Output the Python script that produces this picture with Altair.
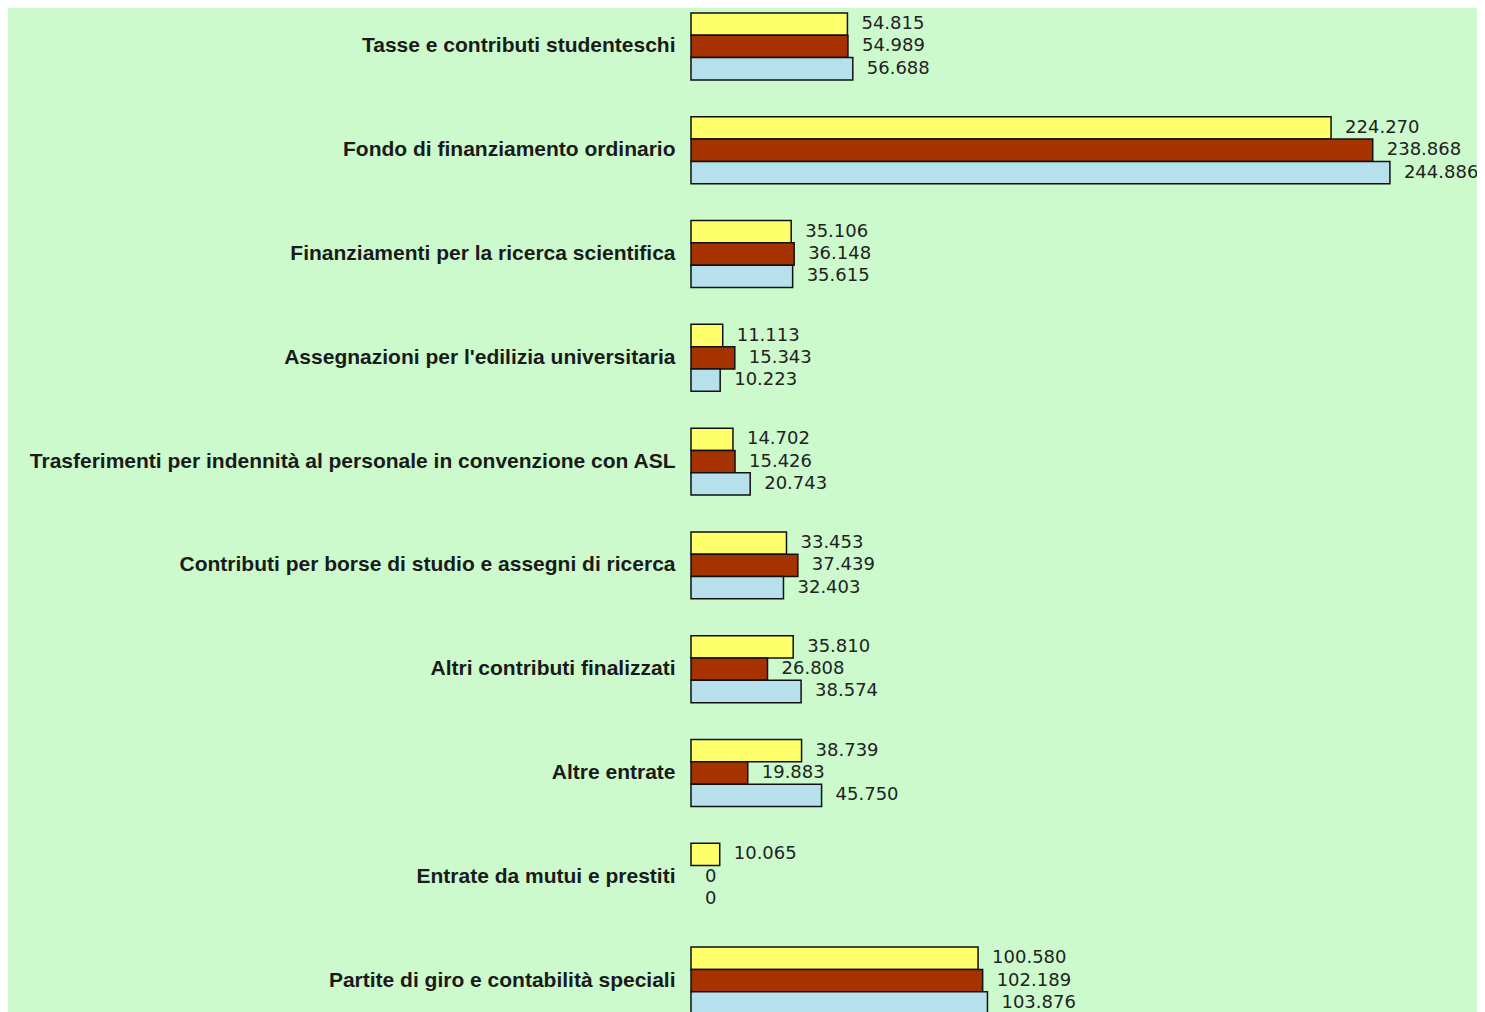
import altair as alt
import pandas as pd

categories = [
    "Tasse e contributi studenteschi",
    "Fondo di finanziamento ordinario",
    "Finanziamenti per la ricerca scientifica",
    "Assegnazioni per l'edilizia universitaria",
    "Trasferimenti per indennità al personale in convenzione con ASL",
    "Contributi per borse di studio e assegni di ricerca",
    "Altri contributi finalizzati",
    "Altre entrate",
    "Entrate da mutui e prestiti",
    "Partite di giro e contabilità speciali",
]
series_names = ["Serie 1", "Serie 2", "Serie 3"]
serie1 = [54815, 224270, 35106, 11113, 14702, 33453, 35810, 38739, 10065, 100580]
serie2 = [54989, 238868, 36148, 15343, 15426, 37439, 26808, 19883, 0, 102189]
serie3 = [56688, 244886, 35615, 10223, 20743, 32403, 38574, 45750, 0, 103876]
series_colors = ["#FFFF6A", "#A63200", "#B6E0EC"]

rows = []
for name, vals in zip(series_names, [serie1, serie2, serie3]):
    for c, v in zip(categories, vals):
        rows.append({"categoria": c, "serie": name, "valore": v})
df = pd.DataFrame(rows)

y_enc = alt.Y("categoria:N", sort=categories, title=None,
              scale=alt.Scale(range=[0, 1011], paddingInner=0.355, paddingOuter=0.048),
              axis=alt.Axis(labelFontWeight="bold", labelFontSize=21, labelColor="#1a1a1a",
                            labelFont="Liberation Sans", ticks=False, domain=False,
                            labelPadding=16, labelLimit=0, grid=False))
yoff = alt.YOffset("serie:N", sort=series_names,
                   scale=alt.Scale(paddingInner=0, paddingOuter=0))
x_enc = alt.X("valore:Q", scale=alt.Scale(domain=[0, 275400], nice=False, zero=True),
              axis=None)

base = alt.Chart(df)
bars = base.mark_bar(stroke="#111111", strokeWidth=1.5, opacity=1).encode(
    y=y_enc, yOffset=yoff, x=x_enc,
    color=alt.Color("serie:N", sort=series_names,
                    scale=alt.Scale(domain=series_names, range=series_colors),
                    legend=None),
    strokeOpacity=alt.condition("datum.valore > 0", alt.value(1), alt.value(0)),
)
labels = base.mark_text(align="left", baseline="middle", dx=14, fontSize=18,
                        font="DejaVu Sans", color="#222222").encode(
    y=y_enc, yOffset=yoff, x=x_enc,
    text=alt.Text("valore:Q", format=",d"),
)

chart = (bars + labels).properties(
    width=786, height=1004,
    autosize=alt.AutoSizeParams(type="none"),
    padding={"left": 683, "top": 0, "right": 0, "bottom": 0},
).configure(
    background="#CCFACC",
    locale=alt.Locale(number=alt.NumberLocale(decimal=",", thousands=".", grouping=[3],
                                              currency=["€", ""])),
).configure_view(stroke=None)

chart.save("out.html", embed_options={"renderer": "svg", "actions": False})
